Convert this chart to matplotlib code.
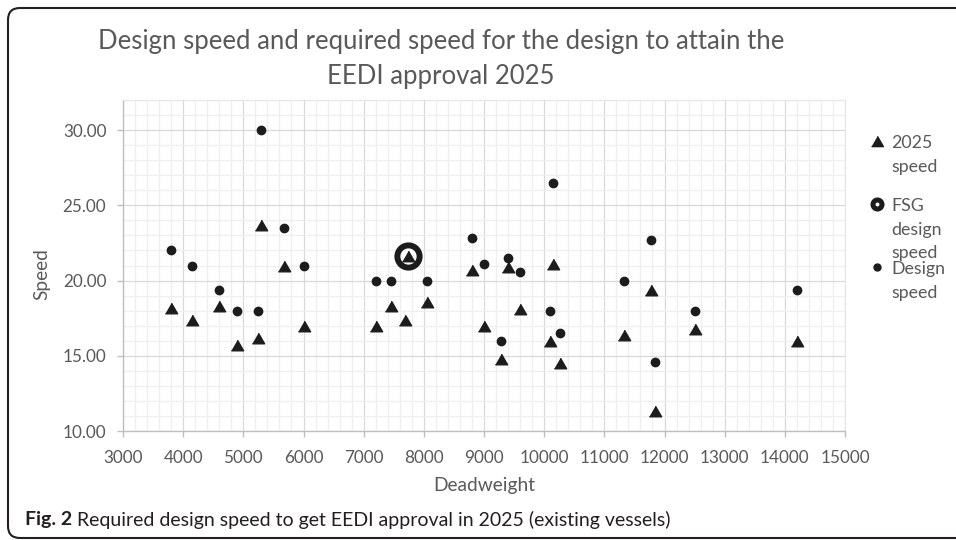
import numpy as np
import matplotlib
matplotlib.use("Agg")
import matplotlib.pyplot as plt
from matplotlib.lines import Line2D
from matplotlib.patches import FancyBboxPatch
from matplotlib.ticker import MultipleLocator, FormatStrFormatter

plt.rcParams['font.family'] = ['Lato', 'DejaVu Sans']

# dati
dwt_2025 = [3800, 4150, 4600, 4890, 5250, 5300, 5680, 6000, 7200, 7450, 7680,
            7740, 8050, 8800, 9000, 9280, 9400, 9600, 10100, 10150, 10270,
            11330, 11780, 11850, 12500, 14200]
speed_2025 = [18.2, 17.4, 18.3, 15.7, 16.2, 23.7, 21.0, 17.0, 17.0, 18.3, 17.4,
              21.6, 18.6, 20.7, 17.0, 14.8, 20.9, 18.1, 16.0, 21.1, 14.5,
              16.4, 19.4, 11.3, 16.8, 16.0]

dwt_design = [3800, 4150, 4600, 4890, 5250, 5300, 5680, 6000, 7200, 7450,
              8050, 8800, 9000, 9280, 9400, 9600, 10100, 10150, 10270,
              11330, 11780, 11850, 12500, 14200]
speed_design = [22.0, 21.0, 19.4, 18.0, 18.0, 30.0, 23.5, 21.0, 20.0, 20.0,
                20.0, 22.8, 21.1, 16.0, 21.5, 20.6, 18.0, 26.5, 16.5,
                20.0, 22.7, 14.6, 18.0, 19.4]

dwt_fsg = [7740]
speed_fsg = [21.6]

grigio = '#595959'
nero = '#1c1c1c'
tri = [(-1, -0.866), (1, -0.866), (0, 0.866)]

fig = plt.figure(figsize=(9.56, 5.4), dpi=100)
ax = fig.add_axes([123/956, 1 - 431/540, 722/956, 331/540])

ax.plot(dwt_fsg, speed_fsg, 'o', ms=16, mfc='white', mec=nero, mew=4.3, zorder=3)
ax.plot(dwt_design, speed_design, 'o', ms=6, color=nero, zorder=4)
ax.plot(dwt_2025, speed_2025, ls='none', marker=tri, ms=8.8, color=nero, zorder=5)

ax.set_xlim(3000, 15000)
ax.set_ylim(10, 32)
ax.xaxis.set_major_locator(MultipleLocator(1000))
ax.xaxis.set_minor_locator(MultipleLocator(200))
ax.yaxis.set_minor_locator(MultipleLocator(1))
ax.yaxis.set_major_formatter(FormatStrFormatter('%.2f'))
ax.set_yticks([10, 15, 20, 25, 30])

ax.grid(which='major', color='#d9d9d9', lw=0.9)
ax.grid(which='minor', color='#efefef', lw=0.9)
ax.set_axisbelow(True)

for s in ['top', 'right']:
    ax.spines[s].set_color('#e6e6e6')
    ax.spines[s].set_linewidth(0.8)
for s in ['left', 'bottom']:
    ax.spines[s].set_color('#bfbfbf')
    ax.spines[s].set_linewidth(1.0)

ax.tick_params(which='major', length=4, width=1.0, color='#bfbfbf',
               labelcolor=grigio, labelsize=12.3)
ax.tick_params(axis='x', pad=9.5)
ax.tick_params(axis='y', pad=8)
ax.tick_params(which='minor', length=0)

ax.set_xlabel('Deadweight', color=grigio, fontsize=13.8)
ax.xaxis.set_label_coords(0.5, -0.14)
ax.set_ylabel('Speed', color=grigio, fontsize=13.8)
ax.yaxis.set_label_coords(-0.10, 0.474)

fig.text(441/956, 1 - 59/540,
         'Design speed and required speed for the design to attain the\nEEDI approval 2025',
         ha='center', va='center', fontsize=18.5, color=grigio, linespacing=1.5)

# legenda
handles = [
    Line2D([], [], ls='none', marker=tri, ms=8.5, color=nero),
    Line2D([], [], ls='none', marker='o', ms=6.5, mfc='white', mec=nero, mew=3.6),
    Line2D([], [], ls='none', marker='o', ms=5, color=nero),
]
labels = ['2025\nspeed\n', 'FSG\ndesign\nspeed', 'Design\nspeed\n']
leg = fig.legend(handles, labels, loc='upper left', bbox_to_anchor=(870/956, 1 - 135/540),
                 frameon=False, borderpad=0, borderaxespad=0, handlelength=0.8,
                 handletextpad=0.4, labelspacing=-0.04, fontsize=12.8,
                 labelcolor=grigio)
for t in leg.get_texts():
    t.set_linespacing(1.6)
for col in leg._legend_handle_box.get_children():
    for item in col.get_children():
        item.align = 'top'

# didascalia
fig.canvas.draw()
r = fig.canvas.get_renderer()
t1 = fig.text(25/956, 1 - 520/540, 'Fig. 2', fontsize=14, fontweight='bold',
              color='#231f20', va='center', ha='left')
bb = t1.get_window_extent(r)
fig.text((bb.x1 + 5)/956, 1 - 520/540,
         'Required design speed to get EEDI approval in 2025 (existing vessels)',
         fontsize=14, color='#231f20', va='center', ha='left')

# cornice
fig.add_artist(FancyBboxPatch((8, 2), 990, 530, boxstyle='round,pad=0,rounding_size=12',
                              transform=None, fill=False, ec='#231f20', lw=1.5))

fig.savefig('out.png', dpi=100)
